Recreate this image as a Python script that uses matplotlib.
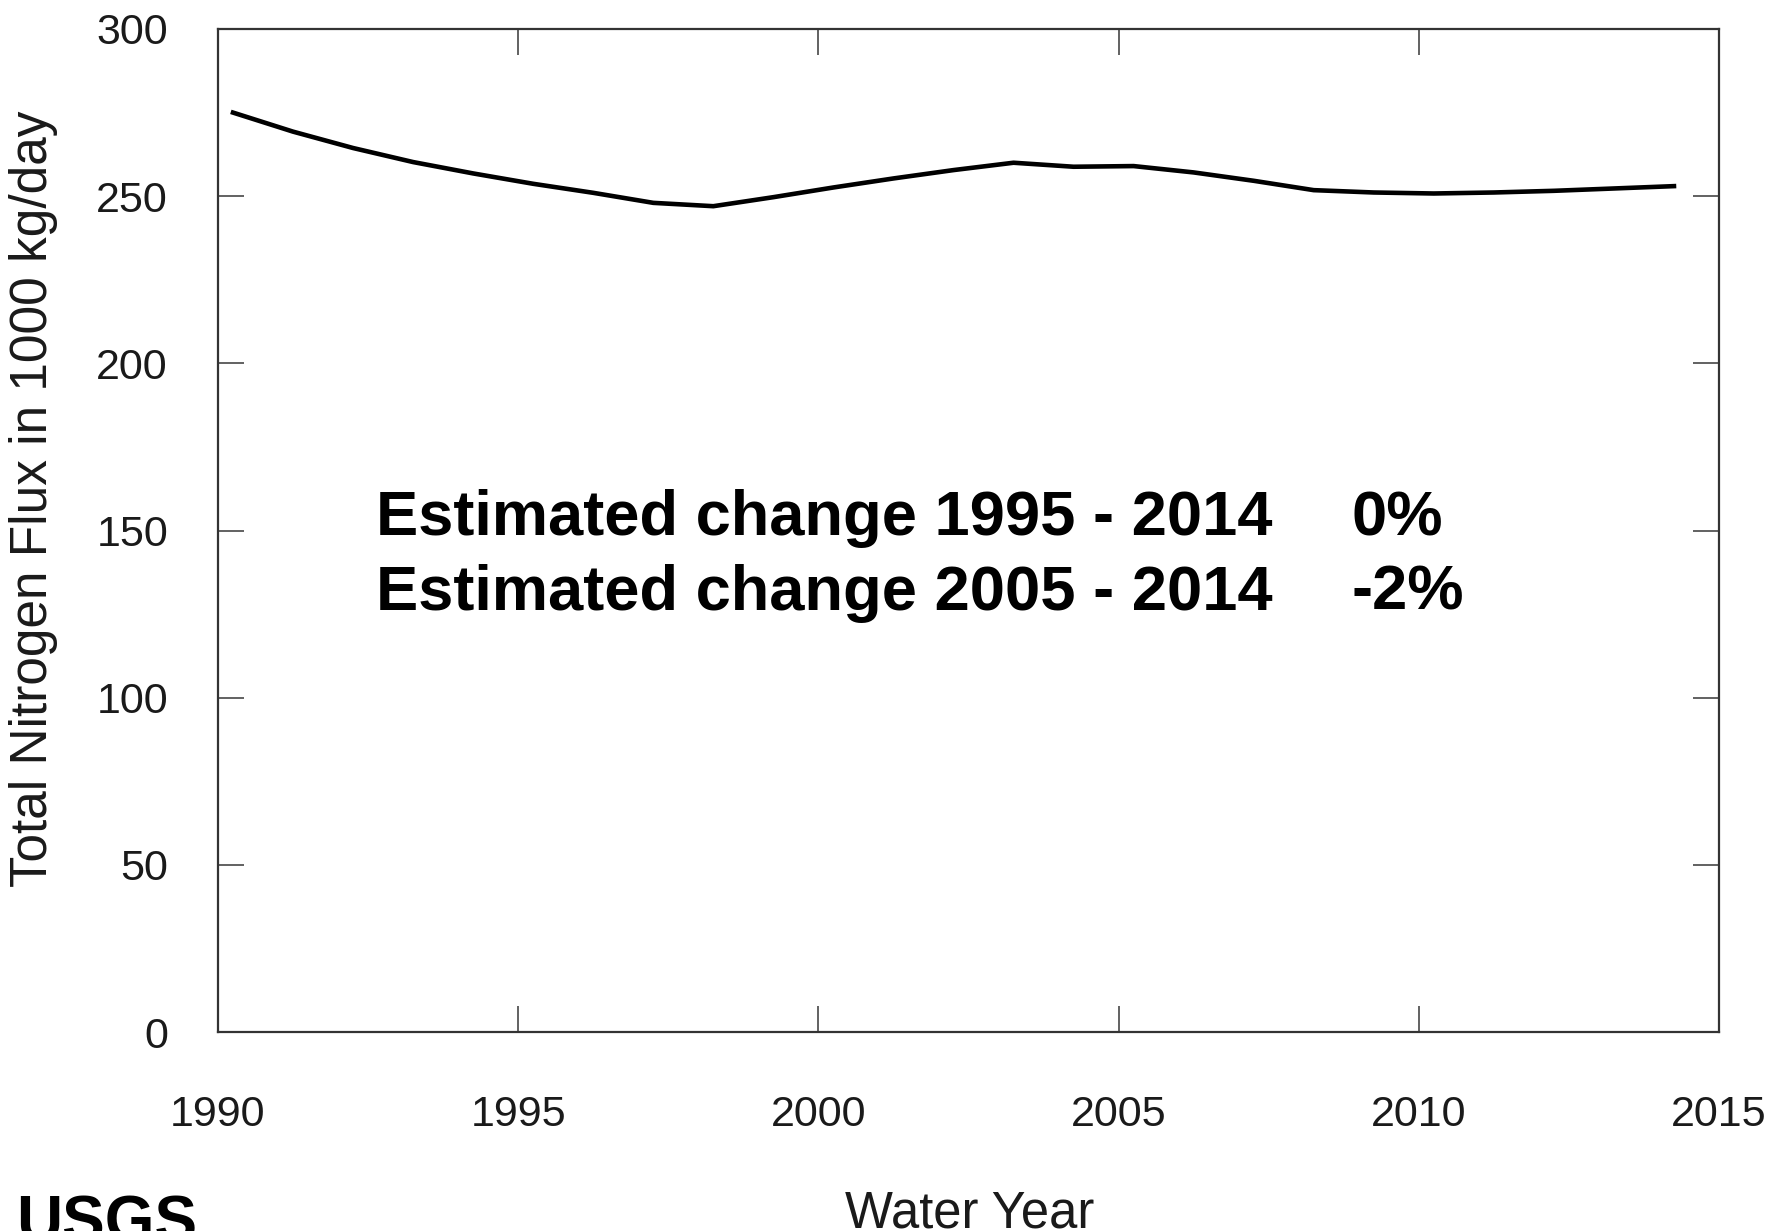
import matplotlib
matplotlib.use("Agg")
import matplotlib.pyplot as plt

# annual total nitrogen flux, plotted at the middle of each water year
years = [1990.25, 1991.25, 1992.25, 1993.25, 1994.25, 1995.25, 1996.25,
         1997.25, 1998.25, 1999.25, 2000.25, 2001.25, 2002.25, 2003.25,
         2004.25, 2005.25, 2006.25, 2007.25, 2008.25, 2009.25, 2010.25,
         2011.25, 2012.25, 2013.25, 2014.25]
flux = [275.0, 269.3, 264.4, 260.2, 256.8, 253.7, 251.0,
        248.0, 247.0, 249.7, 252.6, 255.3, 257.8, 260.0,
        258.8, 259.0, 257.1, 254.6, 251.8, 251.1, 250.8,
        251.1, 251.6, 252.3, 253.0]

x_ticks = [1990, 1995, 2000, 2005, 2010, 2015]
y_ticks = [0, 50, 100, 150, 200, 250, 300]

change_labels = ["Estimated change 1995 - 2014", "Estimated change 2005 - 2014"]
change_values = ["0%", "-2%"]

W, H = 1770, 1231
plt.rcParams['font.family'] = ['Liberation Sans', 'DejaVu Sans']

fig = plt.figure(figsize=(W / 100, H / 100), dpi=100)
ax = fig.add_axes([218 / W, 1 - 1032 / H, (1719 - 218) / W, (1032 - 29) / H])

ax.plot(years, flux, color='black', linewidth=3.3, solid_joinstyle='round')

ax.set_xlim(1990, 2015)
ax.set_ylim(0, 300)
ax.set_xticks(x_ticks)
ax.set_yticks(y_ticks)

for s in ax.spines.values():
    s.set_color('#333333')
    s.set_linewidth(1.6)

ax.tick_params(axis='both', direction='in', length=19, width=1.3,
               color='#555555', labelcolor='#1a1a1a', labelsize=31,
               top=True, right=True)
ax.tick_params(axis='x', pad=45)
ax.tick_params(axis='y', pad=36)

fig.text(34 / W, 1 - 499 / H, "Total Nitrogen Flux in 1000 kg/day",
         rotation=90, ha='center', va='center', fontsize=37, color='#1a1a1a')
fig.text(970 / W, 1 - 1227 / H, "Water Year", ha='center', va='baseline',
         fontsize=36.5, color='#1a1a1a')

baselines = [535, 610]
for lab, val, yb in zip(change_labels, change_values, baselines):
    fig.text(376 / W, 1 - yb / H, lab, ha='left', va='baseline',
             fontsize=45.5, fontweight='bold', color='black')
    fig.text(1351 / W, 1 - yb / H, val, ha='left', va='baseline',
             fontsize=45.5, fontweight='bold', color='black')

# agency wordmark, cut off by the bottom edge
fig.text(16 / W, 1 - 1195 / H, "USGS", ha='left', va='top',
         fontsize=46, fontweight='heavy', color='black')

fig.savefig("out.png", dpi=100)
